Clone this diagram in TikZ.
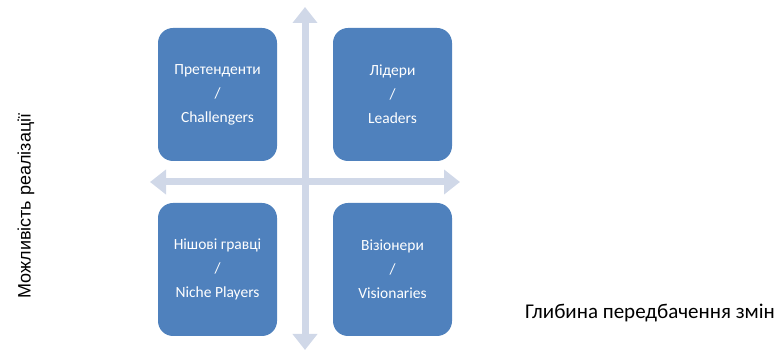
\documentclass[tikz,border=0pt]{standalone}
\usepackage{fontspec}
\setmainfont{Carlito}
\newfontfamily\arialfont{Liberation Sans}
\usepackage{xcolor}
\usetikzlibrary{arrows.meta,positioning}
\definecolor{quadblue}{HTML}{4F81BD}
\definecolor{axisgrey}{HTML}{D0D8E8}

\begin{document}
\begin{tikzpicture}[
x=1pt, y=-1pt,
quad/.style={rectangle, rounded corners=15pt, fill=quadblue, text=white, minimum width=119pt, minimum height=133pt, inner sep=0pt, font=\fontsize{15.5}{24}\selectfont, align=center},
axis/.style={{Triangle[width=24pt,length=16pt]}-{Triangle[width=24pt,length=16pt]}, line width=7pt, draw=axisgrey}
]
\useasboundingbox (0,0) rectangle (782,352);

% Axes
\coordinate (top) at (305,7);
\coordinate (bottom) at (305,350);
\coordinate (left) at (150,182);
\coordinate (right) at (460,182);
\draw[axis] (left) -- (right);
\draw[axis] (bottom) -- (top);

% Quadrants
\node[quad] (chall) at (217.5,94.5) {Претенденти\\/\\Challengers};
\node[quad] (lead) at (392.5,94.5) {Лідери\\/\\Leaders};
\node[quad] (niche) at (217.5,269.5) {Нішові гравці\\/\\Niche Players};
\node[quad] (vision) at (392.5,269.5) {Візіонери\\/\\Visionaries};

% Axis labels
\node[font=\arialfont\fontsize{18}{21}\selectfont, rotate=90] (ylabel) at (26,206) {Можливість реалізації};
\node[font=\fontsize{21}{25}\selectfont, anchor=west, inner sep=0pt] (xlabel) at (525,313) {Глибина передбачення змін};

\end{tikzpicture}
\end{document}
